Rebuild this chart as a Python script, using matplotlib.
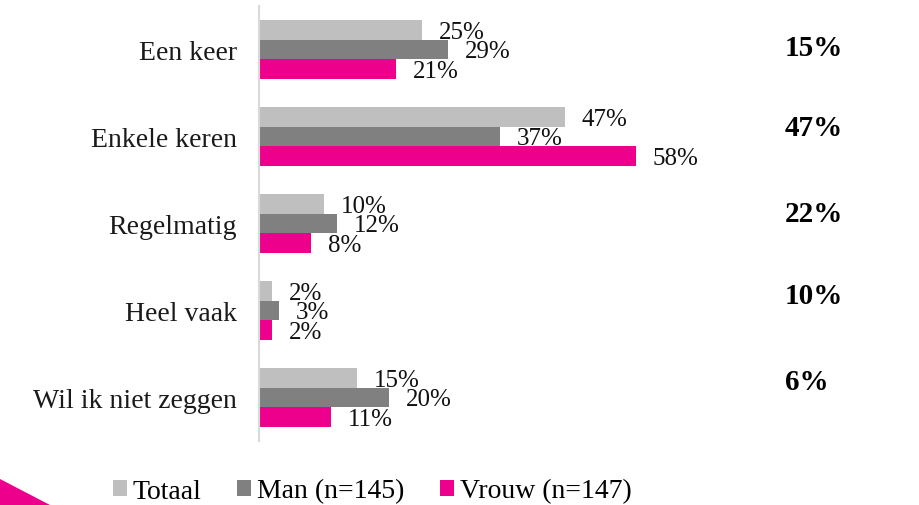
import matplotlib
matplotlib.use("Agg")
import matplotlib.pyplot as plt  # noqa: E402
from matplotlib.patches import Polygon, Patch  # noqa: E402
import numpy as np  # noqa: E402

categories = ["Een keer", "Enkele keren", "Regelmatig", "Heel vaak", "Wil ik niet zeggen"]
totaal = [25, 47, 10, 2, 15]
man = [29, 37, 12, 3, 20]
vrouw = [21, 58, 8, 2, 11]
series_names = ["Totaal", "Man (n=145)", "Vrouw (n=147)"]
right_labels = ["15%", "47%", "22%", "10%", "6%"]

COLORS = ["#BFBFBF", "#808080", "#EC008C"]
FONT = "Liberation Serif"
W, H = 919, 506
FS = 20

plt.rcParams["font.family"] = [FONT, "DejaVu Serif"]

fig = plt.figure(figsize=(W / 100, H / 100), dpi=100)
# axes box in pixels: x 259..779, y 7..442 (from top)
ax = fig.add_axes([259 / W, (H - 442) / H, 520 / W, 435 / H])

y = np.arange(len(categories))
h = 0.224
for k, (vals, col, name) in enumerate(zip([totaal, man, vrouw], COLORS, series_names)):
    pos = y + (k - 1) * h
    ax.barh(pos, vals, height=h, color=col, label=name)
    # value labels: slightly smaller so stacked labels only just touch
    for p, v in zip(pos, vals):
        ax.text(v + 2.6, p + 0.02, f"{v}%", va="center", ha="left",
                fontsize=18, color="#111111")

ax.set_xlim(0, 80)
ax.set_ylim(len(categories) - 0.5, -0.5)
ax.set_yticks(y)
ax.set_yticklabels(categories, fontsize=FS, color="#1a1a1a")
ax.tick_params(axis="y", length=0, pad=16)
ax.set_xticks([])
for s in ("top", "right", "bottom"):
    ax.spines[s].set_visible(False)
ax.spines["left"].set_color("#D9D9D9")
ax.spines["left"].set_linewidth(1.5)

# bold numbers on the right, placed independently of the bars
right_y_px = [48, 128, 215, 297, 383]
for lab, yp in zip(right_labels, right_y_px):
    fig.text(785 / W, 1 - yp / H, lab, ha="left", va="center",
             fontsize=21, fontweight="bold", color="#000000")

handles = [Patch(facecolor=c, edgecolor="none") for c in COLORS]
fig.legend(handles, series_names, loc="center", bbox_to_anchor=(372 / W, 1 - 492 / H),
           ncol=3, frameon=False, fontsize=FS, handlelength=0.5, handleheight=0.5,
           handletextpad=0.2, columnspacing=1.3, borderaxespad=0)

# magenta corner triangle bottom-left
fig.patches.append(Polygon([[0, 1 - 480 / H], [50 / W, 0], [0, 0]], closed=True,
                           transform=fig.transFigure, facecolor="#EC008C",
                           edgecolor="none"))

fig.savefig("out.png", dpi=100)
